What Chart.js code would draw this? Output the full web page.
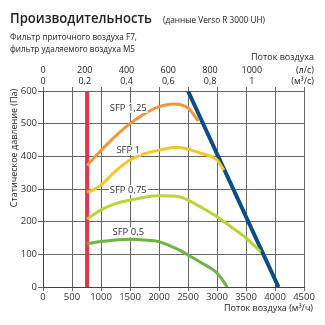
<!DOCTYPE html>
<html>
<head>
<meta charset="utf-8">
<script src="https://cdn.jsdelivr.net/npm/chart.js@4"></script>
<style>
  html, body { margin: 0; padding: 0; background: #fff; }
  #wrap { width: 325px; height: 325px; }
</style>
</head>
<body>
<div id="wrap"><canvas id="perfChart" width="325" height="325"></canvas></div>
<script>
// SFP curves (x = m3/h, y = Pa)
const sfp125X = [760, 1000, 1250, 1500, 1750, 2000, 2250, 2500, 2680];
const sfp125Y = [372, 418, 462, 500, 530, 552, 560, 548, 508];
const sfp1X = [760, 850, 1000, 1250, 1500, 1750, 2000, 2300, 2500, 2750, 3000, 3120];
const sfp1Y = [290, 296, 312, 355, 389, 408, 419, 428, 422, 408, 389, 358];
const sfp075X = [760, 1000, 1250, 1500, 1750, 2000, 2350, 2500, 2750, 3000, 3250, 3500, 3750];
const sfp075Y = [208, 236, 255, 266, 275, 279, 276, 266, 242, 215, 183, 150, 108];
const sfp05X = [760, 1000, 1250, 1500, 1750, 2000, 2290, 2500, 2750, 3000, 3180];
const sfp05Y = [132, 139, 144, 146, 144, 139, 118, 98, 72, 43, 0];
// min flow line and max fan line
const minX = [760, 760];
const minY = [0, 600];
const maxX = [2500, 4060];
const maxY = [600, 0];

const sfpLabels = ['SFP 1,25', 'SFP 1', 'SFP 0,75', 'SFP 0,5'];
const sfpLabelX = [1470, 1470, 1470, 1470];
const sfpLabelY = [548, 419, 297, 168];

// top axis (l/s and m3/s)
const topLs = [0, 200, 400, 600, 800, 1000];
const topM3s = ['0', '0,2', '0,4', '0,6', '0,8', '1'];

function pts(xs, ys) {
    return xs.map((x, i) => ({x: x, y: ys[i]}));
}

function curve(label, xs, ys, color, width) {
    return {
        label: label,
        data: pts(xs, ys),
        borderColor: color,
        borderWidth: width,
        pointRadius: 0,
        showLine: true,
        fill: false,
        cubicInterpolationMode: 'monotone'
    };
}

const textFont = '"Open Sans", sans-serif';

// draw text squeezed to a given width (the original uses a condensed face)
function fitText(ctx, text, x, y, w) {
    const m = ctx.measureText(text).width;
    ctx.save();
    ctx.translate(x, y);
    ctx.scale(Math.min(1, w / m), 1);
    ctx.fillText(text, 0, 0);
    ctx.restore();
}

const headerPlugin = {
    id: 'header',
    afterDraw(chart) {
        const ctx = chart.ctx;
        const xs = chart.scales.x;
        const ys = chart.scales.y;
        ctx.save();
        ctx.fillStyle = '#222';
        ctx.textBaseline = 'alphabetic';
        ctx.textAlign = 'left';
        ctx.font = '600 15px ' + textFont;
        fitText(ctx, 'Производительность', 10, 23, 142);
        ctx.font = '8.5px ' + textFont;
        fitText(ctx, '(данные Verso R 3000 UH)', 163, 23, 102);
        fitText(ctx, 'Фильтр приточного воздуха F7,', 10, 40, 127);
        fitText(ctx, 'фильтр удаляемого воздуха M5', 10, 52, 125);

        ctx.textAlign = 'right';
        ctx.font = '9px ' + textFont;
        ctx.fillText('Поток воздуха', 314, 60);

        // top axis rows
        ctx.textBaseline = 'middle';
        ctx.textAlign = 'center';
        topLs.forEach((v, i) => {
            const px = xs.getPixelForValue(v * 3.6);
            ctx.fillText(String(v), px, 70);
            ctx.fillText(topM3s[i], px, 81);
        });
        ctx.textAlign = 'right';
        ctx.fillText('(л/с)', 314, 70);
        ctx.fillText('(м³/с)', 314, 81);

        // bottom axis title
        ctx.fillText('Поток воздуха (м³/ч)', 313, 308);

        // y axis title
        ctx.translate(14, 148);
        ctx.rotate(-Math.PI / 2);
        ctx.textAlign = 'center';
        ctx.fillText('Статическое давление (Па)', 0, 0);
        ctx.restore();

        // SFP labels with white box
        ctx.save();
        ctx.font = '9.5px ' + textFont;
        ctx.textAlign = 'center';
        ctx.textBaseline = 'middle';
        sfpLabels.forEach((t, i) => {
            const px = xs.getPixelForValue(sfpLabelX[i]);
            const py = ys.getPixelForValue(sfpLabelY[i]);
            const w = ctx.measureText(t).width;
            ctx.fillStyle = '#fff';
            ctx.fillRect(px - w / 2 - 1, py - 5, w + 2, 10);
            ctx.fillStyle = '#333';
            ctx.fillText(t, px, py);
        });
        ctx.restore();
    }
};

new Chart(document.getElementById('perfChart').getContext('2d'), {
    type: 'scatter',
    data: {
        datasets: [
            curve('SFP 1,25', sfp125X, sfp125Y, '#f0963c', 3),
            curve('SFP 1', sfp1X, sfp1Y, '#f6c625', 3),
            curve('SFP 0,75', sfp075X, sfp075Y, '#b8d437', 3),
            curve('SFP 0,5', sfp05X, sfp05Y, '#6cb443', 3),
            curve('min', minX, minY, '#e2364f', 4),
            curve('max', maxX, maxY, '#0c4c88', 4)
        ]
    },
    options: {
        responsive: false,
        animation: false,
        layout: {padding: {top: 87, right: 21, left: 0, bottom: 0}},
        plugins: {
            legend: {display: false},
            tooltip: {enabled: false}
        },
        scales: {
            x: {
                type: 'linear',
                position: 'bottom',
                min: 0,
                max: 4500,
                afterFit: s => { s.height = 38; },
                ticks: {
                    stepSize: 500,
                    color: '#333',
                    padding: 1,
                    maxRotation: 0,
                    font: {family: textFont, size: 9.5},
                    callback: v => String(v)
                },
                grid: {color: '#666', lineWidth: 1, tickLength: 4},
                border: {color: '#444'}
            },
            x2: {
                type: 'linear',
                position: 'top',
                min: 0,
                max: 4500,
                afterFit: s => { s.height = 4; },
                ticks: {stepSize: 500, display: false},
                grid: {color: '#666', lineWidth: 1, tickLength: 4, drawOnChartArea: false},
                border: {color: '#666'}
            },
            y: {
                type: 'linear',
                min: 0,
                max: 600,
                afterFit: s => { s.width = 43; },
                ticks: {
                    stepSize: 100,
                    color: '#333',
                    padding: 1,
                    font: {family: textFont, size: 9.5}
                },
                grid: {color: '#666', lineWidth: 1, tickLength: 5},
                border: {color: '#444'}
            }
        }
    },
    plugins: [headerPlugin]
});
</script>
</body>
</html>
